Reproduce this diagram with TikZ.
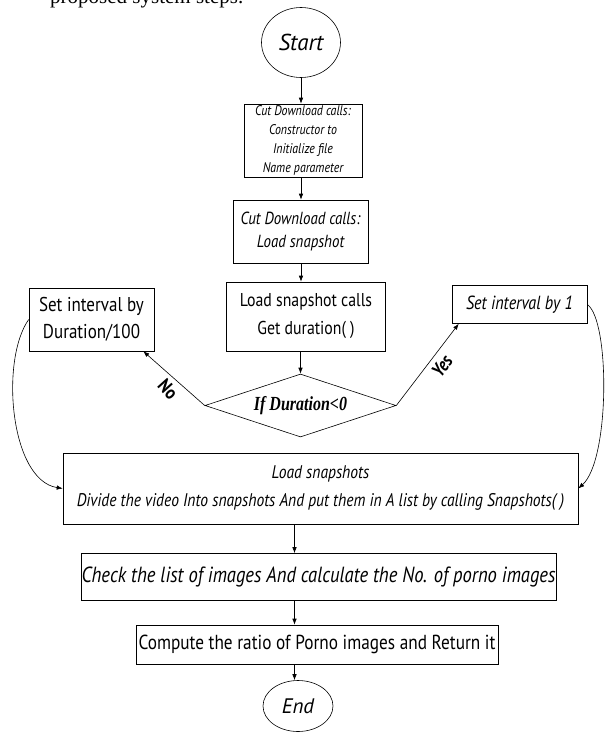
\documentclass[tikz,border=0pt]{standalone}
\usepackage{fontspec}
\setmainfont{Liberation Serif}
\newfontfamily\cf[FakeStretch=0.85]{PT Sans}
\newfontfamily\cw{PT Sans}
\newfontfamily\tnr[FakeStretch=0.8]{Liberation Serif}
\usetikzlibrary{shapes.geometric,arrows.meta}
\tikzset{
  box/.style={draw, line width=0.6pt, inner sep=0pt, align=center},
  term/.style={draw, ellipse, line width=0.6pt, inner sep=0pt},
  arr/.style={draw, line width=0.6pt, -{Latex[length=6pt,width=4.5pt]}},
  lbl/.style={inner sep=0pt, font=\cf\bfseries\fontsize{19}{19}\selectfont}
}
\newcommand{\fs}[2]{\cf\fontsize{#1}{#2}\selectfont}
\begin{document}
\begin{tikzpicture}[x=1pt,y=-1pt]
\useasboundingbox (0,0) rectangle (605,732);
\clip (0,0) rectangle (605,732);
\node[anchor=base west, inner sep=0pt, font=\fontsize{21}{21}\selectfont] (title) at (50,3.5) {proposed system steps.};

\node[term, minimum width=79pt, minimum height=70pt, font=\cw\fontsize{23}{23}\selectfont\itshape] (start) at (301,42.5) {Start};
\node[box, minimum width=118pt, minimum height=73pt, font=\fs{14}{19}\itshape] (b1) at (303,140.5) {Cut Download calls:\\Constructor to\\Initialize file\\Name parameter};
\node[box, minimum width=135pt, minimum height=63pt, font=\fs{17.5}{23}\itshape] (b2) at (300.5,231.5) {Cut Download calls:\\Load snapshot};
\node[box, minimum width=159pt, minimum height=69pt, font=\fs{18.6}{28}] (b3) at (306,316.5) {Load snapshot calls\\Get duration( )};
\node[draw, diamond, line width=0.6pt, aspect=3, inner sep=0pt, minimum width=191pt, minimum height=63pt, font=\tnr\fontsize{20}{20}\selectfont\bfseries\itshape] (dia) at (300.5,405.5) {If Duration<0};
\node[box, minimum width=125pt, minimum height=63pt, font=\fs{20}{27}] (lb) at (91.5,319.5) {Set interval by\\Duration/100};
\node[box, minimum width=135pt, minimum height=38pt, font=\fs{19}{19}\itshape] (rb) at (519.5,304.5) {Set interval by 1};
\node[box, minimum width=515pt, minimum height=71pt, font=\fs{18.3}{28}\itshape] (big) at (320.5,488.5) {Load snapshots\\Divide the video Into snapshots And put them in A list by calling Snapshots( )};
\node[box, minimum width=475pt, minimum height=47pt, font=\fs{21.9}{22}\itshape] (chk) at (318.5,577) {Check the list of images And calculate the No. of porno images};
\node[box, minimum width=362pt, minimum height=39pt, font=\fs{20.3}{20}] (cmp) at (317,644.5) {Compute the ratio of Porno images and Return it};
\node[term, minimum width=70pt, minimum height=51pt, font=\cw\fontsize{21}{21}\selectfont\itshape] (end) at (298,706) {End};

\coordinate (cx1) at (301,0);
\coordinate (cx) at (294.5,0);
\draw[arr] (start.south -| cx1) -- (b1.north -| cx1);
\draw[arr] (b1.south -| cx1) -- (b2.north -| cx1);
\draw[arr] (b2.south -| cx1) -- (b3.north -| cx1);
\draw[arr] (b3.south -| dia.north) -- (dia.north);
\draw[arr] (dia.west) -- ([xshift=-11pt]lb.south east);
\draw[arr] (dia.east) -- ([xshift=7pt]rb.south west);
\draw[arr] (lb.west) .. controls (0,360) and (10,480) .. (big.west);
\draw[arr] (rb.east) .. controls (610,320) and (610,460) .. (big.east);
\draw[arr] (big.south -| cx) -- (chk.north -| cx);
\draw[arr] (chk.south -| cx) -- (cmp.north -| cx);
\draw[arr] (cmp.south -| cx) -- (end.north -| cx);

\node[lbl, rotate=-48] (no) at (168,389) {No};
\node[lbl, rotate=55, font=\cf\bfseries\itshape\fontsize{19}{19}\selectfont] (yes) at (442,366) {Yes};
\end{tikzpicture}
\end{document}
